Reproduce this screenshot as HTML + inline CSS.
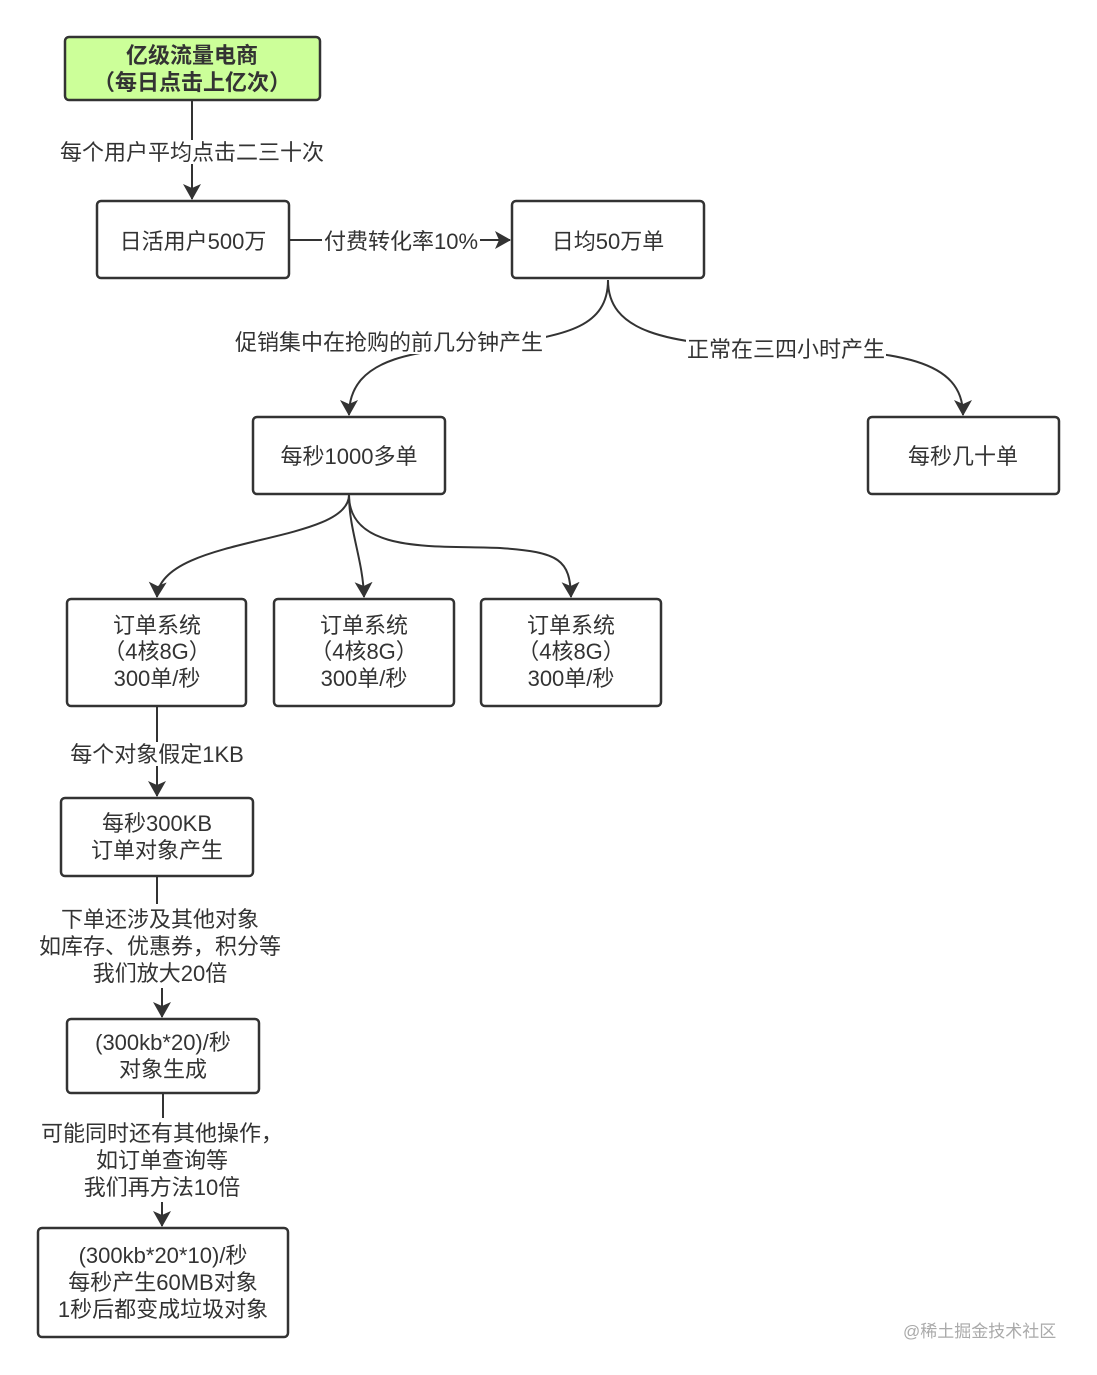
<!DOCTYPE html>
<html><head><meta charset="utf-8"><style>
html,body{margin:0;padding:0;background:#fff;}
svg{display:block;}
text{font-family:"Liberation Sans","Noto Sans CJK SC",sans-serif;font-size:22px;fill:#333;}
</style></head><body>
<svg width="1097" height="1375" viewBox="0 0 1097 1375" xmlns="http://www.w3.org/2000/svg">
<defs>
<marker id="b" markerWidth="16" markerHeight="18" refX="15" refY="9" orient="auto" markerUnits="userSpaceOnUse" viewBox="0 0 16 18">
<path d="M0,0 L16,9 L0,18 L4,9 z" fill="#333"/></marker>
</defs>
<g fill="none" stroke="#333" stroke-width="2">
<path d="M192,101 V199" marker-end="url(#b)"/>
<path d="M290,240 H510" marker-end="url(#b)"/>
<path d="M608,280 C608,330 560,335 500,345 C420,350 349,355 349,415" marker-end="url(#b)"/>
<path d="M608,280 C608,330 660,345 780,348 C900,350 963,360 963,415" marker-end="url(#b)"/>
<path d="M349,495 C349,545 160,535 157,597" marker-end="url(#b)"/>
<path d="M349,495 C349,530 363,560 364,597" marker-end="url(#b)"/>
<path d="M349,495 C349,555 440,545 500,548 C560,552 570,560 571,597" marker-end="url(#b)"/>
<path d="M157,707 V796" marker-end="url(#b)"/>
<path d="M157,877 V905 M162,985 V1017" marker-end="url(#b)"/>
<path d="M163,1094 V1125 M162,1200 V1226" marker-end="url(#b)"/>
</g>
<g fill="#fff">
<rect x="58" y="140" width="270" height="24"/>
<rect x="322" y="229" width="158" height="24"/>
<rect x="232" y="330" width="314" height="24"/>
<rect x="686" y="337" width="200" height="24"/>
<rect x="70" y="742" width="174" height="24"/>
<rect x="36" y="904" width="248" height="84"/>
<rect x="38" y="1118" width="250" height="84"/>
</g>
<g stroke="#333" stroke-width="2.5">
<rect x="65" y="37" width="255" height="63" rx="4" fill="#ccff99"/>
<rect x="97" y="201" width="192" height="77" rx="4" fill="#fff"/>
<rect x="512" y="201" width="192" height="77" rx="4" fill="#fff"/>
<rect x="253" y="417" width="192" height="77" rx="4" fill="#fff"/>
<rect x="868" y="417" width="191" height="77" rx="4" fill="#fff"/>
<rect x="67" y="599" width="179" height="107" rx="4" fill="#fff"/>
<rect x="274" y="599" width="180" height="107" rx="4" fill="#fff"/>
<rect x="481" y="599" width="180" height="107" rx="4" fill="#fff"/>
<rect x="61" y="798" width="192" height="78" rx="4" fill="#fff"/>
<rect x="67" y="1019" width="192" height="74" rx="4" fill="#fff"/>
<rect x="38" y="1228" width="250" height="109" rx="4" fill="#fff"/>
</g>
<g text-anchor="middle">
<text x="192" y="63" style="font-weight:bold">亿级流量电商</text>
<text x="192" y="90" style="font-weight:bold">（每日点击上亿次）</text>
<text x="192" y="160">每个用户平均点击二三十次</text>
<text x="193" y="249">日活用户500万</text>
<text x="401" y="249">付费转化率10%</text>
<text x="608" y="249">日均50万单</text>
<text x="389" y="350">促销集中在抢购的前几分钟产生</text>
<text x="786" y="357">正常在三四小时产生</text>
<text x="349" y="464">每秒1000多单</text>
<text x="963" y="464">每秒几十单</text>
<text x="157" y="633">订单系统</text><text x="157" y="659">（4核8G）</text><text x="157" y="686">300单/秒</text>
<text x="364" y="633">订单系统</text><text x="364" y="659">（4核8G）</text><text x="364" y="686">300单/秒</text>
<text x="571" y="633">订单系统</text><text x="571" y="659">（4核8G）</text><text x="571" y="686">300单/秒</text>
<text x="157" y="762">每个对象假定1KB</text>
<text x="157" y="831">每秒300KB</text>
<text x="157" y="858">订单对象产生</text>
<text x="160" y="927">下单还涉及其他对象</text>
<text x="160" y="954">如库存、优惠券，积分等</text>
<text x="160" y="981">我们放大20倍</text>
<text x="163" y="1050">(300kb*20)/秒</text>
<text x="163" y="1077">对象生成</text>
<text x="162" y="1141">可能同时还有其他操作，</text>
<text x="162" y="1168">如订单查询等</text>
<text x="162" y="1195">我们再方法10倍</text>
<text x="163" y="1263">(300kb*20*10)/秒</text>
<text x="163" y="1290">每秒产生60MB对象</text>
<text x="163" y="1317">1秒后都变成垃圾对象</text>
</g>
<text x="903" y="1337" style="font-size:17px;fill:#aaa">@稀土掘金技术社区</text>
</svg>
</body></html>
